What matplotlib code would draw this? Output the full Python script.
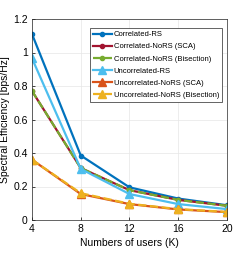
import numpy as np
import matplotlib
matplotlib.use('Agg')
import matplotlib.pyplot as plt

plt.rcParams['font.family'] = ['Liberation Sans', 'DejaVu Sans']

# %% data
users = [4, 8, 12, 16, 20]
corr_rs = [1.11, 0.385, 0.195, 0.128, 0.088]
corr_nors_sca = [0.77, 0.31, 0.178, 0.12, 0.085]
corr_nors_bis = [0.77, 0.31, 0.178, 0.12, 0.085]
uncorr_rs = [0.965, 0.305, 0.155, 0.095, 0.065]
uncorr_nors_sca = [0.36, 0.155, 0.095, 0.063, 0.047]
uncorr_nors_bis = [0.36, 0.16, 0.097, 0.065, 0.048]
x_ticks = [4, 8, 12, 16, 20]
y_ticks = [0, 0.2, 0.4, 0.6, 0.8, 1, 1.2]
y_ticklabels = ['0', '0.2', '0.4', '0.6', '0.8', '1', '1.2']

# %% plot
fig = plt.figure(figsize=(2.51, 2.56), dpi=100)
ax = fig.add_axes([32/251, 1 - 220/256, 195/251, 201/256])

lw = 1.6
ax.plot(users, corr_rs, '-o', color='#0072BD', lw=lw, ms=3, label='Correlated-RS')
ax.plot(users, corr_nors_sca, '-o', color='#A2142F', lw=lw, ms=3, label='Correlated-NoRS (SCA)')
ax.plot(users, corr_nors_bis, '--o', color='#77AC30', lw=lw, ms=3, label='Correlated-NoRS (Bisection)')
ax.plot(users, uncorr_rs, '-^', color='#4DBEEE', lw=lw, ms=5.5, label='Uncorrelated-RS')
ax.plot(users, uncorr_nors_sca, '-^', color='#D95319', lw=lw, ms=5.5, label='Uncorrelated-NoRS (SCA)')
ax.plot(users, uncorr_nors_bis, '--^', color='#EDB120', lw=lw, ms=5.5, label='Uncorrelated-NoRS (Bisection)')

ax.set_xlim(4, 20)
ax.set_ylim(0, 1.2)
ax.set_xticks(x_ticks)
ax.set_yticks(y_ticks)
ax.set_yticklabels(y_ticklabels)
ax.tick_params(labelsize=7.5, direction='in', length=2, width=0.5, pad=3)
ax.grid(True, color='#e6e6e6', lw=0.5)
for s in ax.spines.values():
    s.set_linewidth(0.5)
    s.set_color('#262626')
ax.set_xlabel('Numbers of users (K)', fontsize=7.5, labelpad=3)
ax.set_ylabel('Spectral Efficiency [bps/Hz]', fontsize=7.5, labelpad=2)

leg = ax.legend(loc='upper right', bbox_to_anchor=(222/251, 1 - 28/256),
                bbox_transform=fig.transFigure, fontsize=5.5, handlelength=2.5,
                handletextpad=0.2, borderpad=0.4, labelspacing=0.62,
                fancybox=False, framealpha=1, borderaxespad=0)
leg.get_frame().set_linewidth(0.5)
leg.get_frame().set_edgecolor('#262626')

fig.savefig('out.png', dpi=100)
